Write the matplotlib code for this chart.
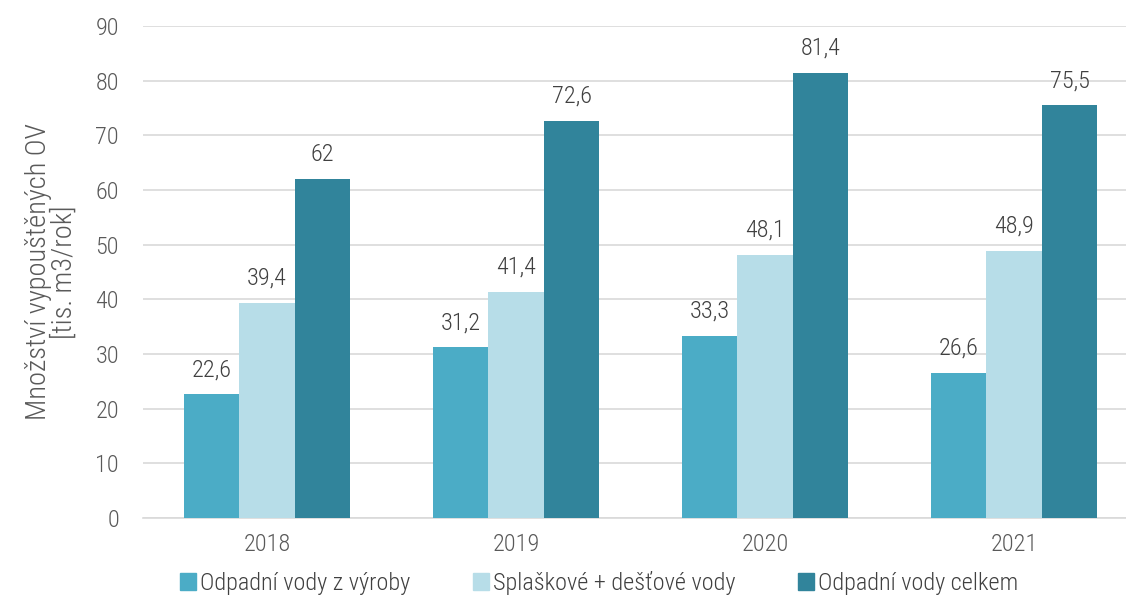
import matplotlib
matplotlib.use("Agg")
import matplotlib.pyplot as plt
import numpy as np
from matplotlib.patches import Patch

years = ["2018", "2019", "2020", "2021"]
vyroba = [22.6, 31.2, 33.3, 26.6]
splaskove = [39.4, 41.4, 48.1, 48.9]
celkem = [62, 72.6, 81.4, 75.5]
series_names = ["Odpadní vody z výroby", "Splaškové + dešťové vody", "Odpadní vody celkem"]
colors = ["#4BACC6", "#B7DDE8", "#31849B"]

plt.rcParams['font.family'] = ['Roboto Condensed', 'DejaVu Sans']
plt.rcParams['font.weight'] = 300

fig = plt.figure(figsize=(11.26, 5.96), dpi=100)
W, H = 1126, 596
left, right, top, bottom = 142.5, 1138.5, 26, 518
ax = fig.add_axes([left / W, 1 - bottom / H, (right - left) / W, (bottom - top) / H])

x = np.arange(len(years))
bw = 0.223
text_c = "#404040"
fs = 17.5
for i, (vals, c) in enumerate(zip([vyroba, splaskove, celkem], colors)):
    pos = x + (i - 1) * bw
    ax.bar(pos, vals, width=bw, color=c, zorder=3)
    for p, v in zip(pos, vals):
        lbl = f"{v:g}".replace(".", ",")
        ax.annotate(lbl, (p, v), xytext=(0, 9.5), textcoords="offset points",
                    ha="center", va="bottom", fontsize=fs, color=text_c)

ax.set_xlim(-0.5, len(years) - 0.5)
ax.set_ylim(0, 90)
ax.set_yticks(range(0, 91, 10))
ax.set_xticks(x)
ax.set_xticklabels(years)
ax.yaxis.grid(True, color="#D9D9D9", linewidth=1.2, zorder=0)
for s in ["top", "right", "left"]:
    ax.spines[s].set_visible(False)
ax.spines["bottom"].set_color("#D9D9D9")
ax.spines["bottom"].set_linewidth(1.2)
ax.tick_params(axis="both", length=0, labelsize=fs, colors="#595959")
ax.tick_params(axis="y", pad=17)
ax.tick_params(axis="x", pad=11)

fig.text(51 / W, 1 - 272 / H, "Množství vypouštěných OV\n[tis. m3/rok]", rotation=90,
         ha="center", va="center", fontsize=20.5, color="#595959", linespacing=0.95)

handles = [Patch(color=c) for c in colors]
fig.legend(handles, series_names, loc="center", bbox_to_anchor=(599 / W, 1 - 583 / H),
           ncol=3, frameon=False, fontsize=fs, handlelength=0.65, handleheight=0.65,
           handletextpad=0.15, columnspacing=2.6, labelcolor="#404040")

fig.savefig("out.png", dpi=100)
